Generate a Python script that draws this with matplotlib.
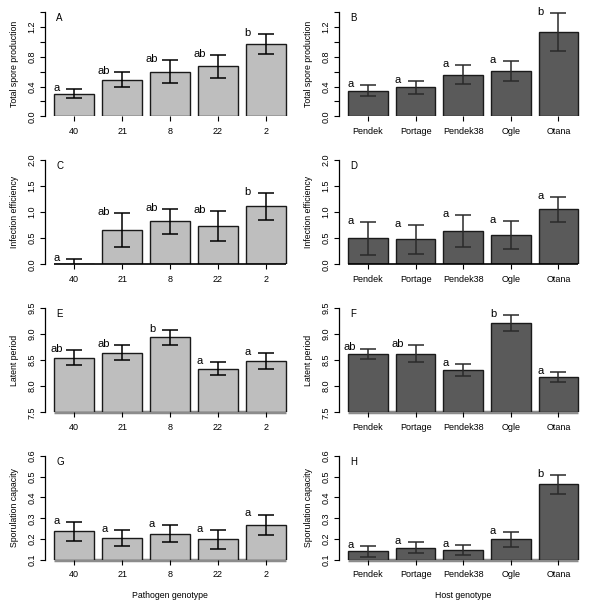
import numpy as np
import matplotlib
matplotlib.use("Agg")
import matplotlib.pyplot as plt

plt.rcParams['font.family'] = ['Liberation Sans', 'DejaVu Sans']

pathogen = ['40', '21', '8', '22', '2']
host = ['Pendek', 'Portage', 'Pendek38', 'Ogle', 'Otana']

# means, error half-widths and letters
spore_path = [0.30, 0.49, 0.60, 0.67, 0.97]
spore_path_se = [0.06, 0.10, 0.15, 0.15, 0.13]
spore_path_let = ['a', 'ab', 'ab', 'ab', 'b']

spore_host = [0.34, 0.39, 0.56, 0.61, 1.13]
spore_host_se = [0.074, 0.087, 0.127, 0.136, 0.253]
spore_host_let = ['a', 'a', 'a', 'a', 'b']

inf_path = [0.0, 0.665, 0.824, 0.735, 1.112]
inf_path_se = [0.11, 0.325, 0.24, 0.288, 0.256]
inf_path_let = ['a', 'ab', 'ab', 'ab', 'b']

inf_host = [0.498, 0.479, 0.639, 0.562, 1.054]
inf_host_se = [0.32, 0.28, 0.31, 0.26, 0.244]
inf_host_let = ['a', 'a', 'a', 'a', 'a']

lat_path = [8.55, 8.646, 8.937, 8.335, 8.484]
lat_path_se = [0.136, 0.148, 0.146, 0.123, 0.155]
lat_path_let = ['ab', 'ab', 'b', 'a', 'a']

lat_host = [8.626, 8.626, 8.316, 9.209, 8.18]
lat_host_se = [0.097, 0.168, 0.113, 0.152, 0.097]
lat_host_let = ['ab', 'ab', 'a', 'b', 'a']

spor_path = [0.238, 0.204, 0.226, 0.199, 0.270]
spor_path_se = [0.045, 0.039, 0.040, 0.047, 0.048]
spor_path_let = ['a', 'a', 'a', 'a', 'a']

spor_host = [0.142, 0.159, 0.150, 0.199, 0.462]
spor_host_se = [0.026, 0.025, 0.024, 0.037, 0.044]
spor_host_let = ['a', 'a', 'a', 'a', 'b']

light = '#bebebe'
dark = '#5a5a5a'

fig = plt.figure(figsize=(6.0, 6.06), dpi=100)

lefts = [45 / 600, 339 / 600]
widths = [250 / 600, 248.5 / 600]
bottoms = [1 - 116.3 / 606, 1 - 264.3 / 606, 1 - 412.3 / 606, 1 - 560 / 606]
h = 104.3 / 606

rows = [
    ('Total spore production', (0, 1.4), np.arange(0, 1.41, 0.2), 2, '%.1f',
     (spore_path, spore_path_se, spore_path_let), (spore_host, spore_host_se, spore_host_let), 'AB'),
    ('Infection efficiency', (0, 2.0), np.arange(0, 2.01, 0.5), 1, '%.1f',
     (inf_path, inf_path_se, inf_path_let), (inf_host, inf_host_se, inf_host_let), 'CD'),
    ('Latent period', (7.5, 9.5), np.arange(7.5, 9.51, 0.5), 1, '%.1f',
     (lat_path, lat_path_se, lat_path_let), (lat_host, lat_host_se, lat_host_let), 'EF'),
    ('Sporulation capacity', (0.1, 0.6), np.arange(0.1, 0.61, 0.1), 1, '%.1f',
     (spor_path, spor_path_se, spor_path_let), (spor_host, spor_host_se, spor_host_let), 'GH'),
]

centers = 0.7 + 1.2 * np.arange(5)

for r, (ylab, ylim, yt, every, fmt, dl, dr, labs) in enumerate(rows):
    for c in range(2):
        ax = fig.add_axes([lefts[c], bottoms[r], widths[c], h])
        vals, se, let = dl if c == 0 else dr
        names = pathogen if c == 0 else host
        fill = light if c == 0 else dark
        ecol = 'black' if c == 0 else '#2a2a2a'
        base = ylim[0]
        ax.bar(centers, np.array(vals) - base, bottom=base, width=1.0,
               color=fill, edgecolor='#1a1a1a', linewidth=1.0, zorder=2)
        ax.errorbar(centers, vals, yerr=se, fmt='none', ecolor=ecol,
                    elinewidth=1.1, capsize=6, capthick=1.1, zorder=3)
        rng = ylim[1] - ylim[0]
        for xc, v, s, t in zip(centers, vals, se, let):
            ax.text(xc - 0.45, v + s + 0.01 * rng, t, ha='center', va='center',
                    fontsize=8, zorder=4)
        if r == 1:
            ax.hlines(0, centers[0] - 0.5, centers[-1] + 0.5, color='black',
                      linewidth=1.2, zorder=3, clip_on=False)
        if r >= 2:
            ax.hlines(base, centers[0] - 0.5, centers[-1] + 0.5, color='#8c8c8c',
                      linewidth=2.5, zorder=1, clip_on=False)
        ax.set_xlim(0.2 - 0.232, 6.0 + 0.232)
        ax.set_ylim(*ylim)
        for sp in ['top', 'right', 'bottom']:
            ax.spines[sp].set_visible(False)
        ax.spines['left'].set_linewidth(0.9)
        ax.set_yticks(yt)
        ax.set_yticklabels([fmt % v if i % every == 0 else '' for i, v in enumerate(yt)],
                           rotation=90, va='center', fontsize=6.5)
        ax.set_xticks(centers)
        ax.set_xticklabels(names, fontsize=6.5)
        ax.tick_params(axis='both', length=3.5, width=0.8, pad=2.5)
        ax.tick_params(axis='x', pad=4)
        ax.set_ylabel(ylab, fontsize=6.3, labelpad=6)
        ax.text(0.045, 0.94, labs[c], transform=ax.transAxes, fontsize=7,
                ha='left', va='center')
        if r == 3:
            ax.set_xlabel('Pathogen genotype' if c == 0 else 'Host genotype',
                          fontsize=6.3, labelpad=8)

fig.savefig('out.png', dpi=100)
